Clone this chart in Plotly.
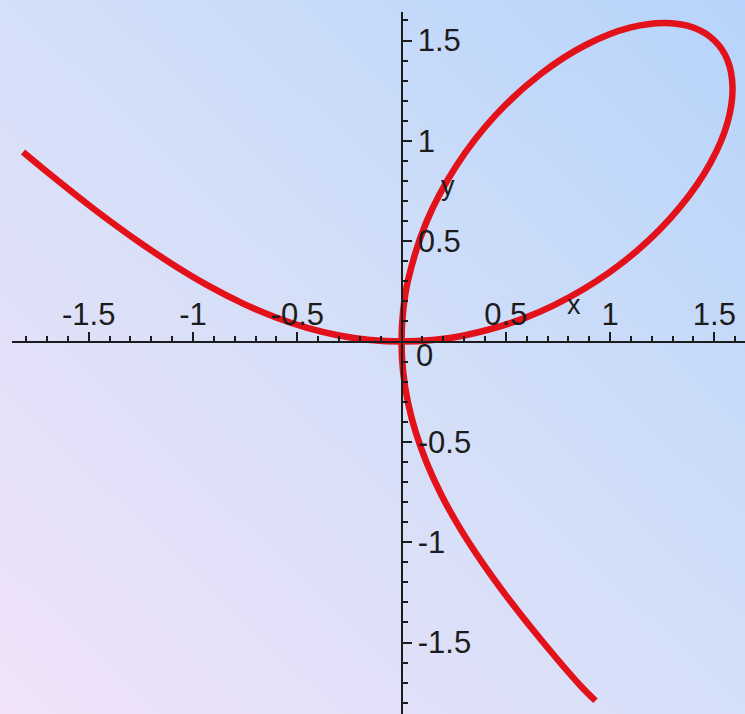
"""Folium of Descartes, Maple-style axes through the origin on a soft gradient."""

import plotly.graph_objects as go

# curve: left branch -> origin -> loop -> origin -> lower branch
curve_x = [
    -1.815, -1.714, -1.485, -1.282, -1.097, -0.925, -0.762, -0.605, -0.452, -0.300, -0.150, 0.0,
    0.150, 0.300, 0.595, 0.876, 1.128, 1.333, 1.480, 1.564, 1.587, 1.562, 1.500, 1.405,
    1.270, 1.095, 0.888, 0.667, 0.451, 0.263, 0.119, 0.030, 0.0075, 0.0,
    0.0075, 0.030, 0.068, 0.121, 0.190, 0.277, 0.384, 0.513, 0.668, 0.857, 0.930,
]
curve_y = [
    0.944, 0.857, 0.668, 0.513, 0.384, 0.277, 0.190, 0.121, 0.068, 0.030, 0.0075, 0.0,
    0.0075, 0.030, 0.119, 0.263, 0.451, 0.667, 0.888, 1.095, 1.270, 1.405, 1.500, 1.562,
    1.587, 1.564, 1.480, 1.333, 1.128, 0.876, 0.595, 0.300, 0.150, 0.0,
    -0.150, -0.300, -0.452, -0.605, -0.762, -0.925, -1.097, -1.282, -1.485, -1.714, -1.790,
]

tick_vals = [-1.5, -1.0, -0.5, 0.5, 1.0, 1.5]
tick_text = ["-1.5", "-1", "-0.5", "0.5", "1", "1.5"]

# 2x2 corner grid for the diagonal background wash
bg_z = [[0, 1], [1, 2]]
bg_scale = [[0.0, "#f1e2f9"], [0.5, "#d4dff8"], [1.0, "#b6d4fb"]]

W, H = 745, 714
X_RANGE = [-1.868, 1.647]
Y_RANGE = [-1.856, 1.642]
X_DOMAIN = [12 / W, 1]
Y_DOMAIN = [0, 1 - 12 / H]

FONT = "Liberation Sans, Arial, sans-serif"
INK = "#1c1c1c"


def _paper_pos(rng, dom, v):
    frac = (v - rng[0]) / (rng[1] - rng[0])
    return dom[0] + frac * (dom[1] - dom[0])


fig = go.Figure()

# background gradient on its own hidden axes
fig.add_trace(
    go.Heatmap(
        z=bg_z, x=[0, 1], y=[0, 1],
        colorscale=bg_scale, zsmooth="best",
        showscale=False, hoverinfo="skip",
        xaxis="x", yaxis="y",
    )
)

fig.add_trace(
    go.Scatter(
        x=curve_x, y=curve_y,
        mode="lines",
        line=dict(color="#e3121a", width=6.5, shape="spline", smoothing=1.0),
        xaxis="x2", yaxis="y2",
        hoverinfo="skip",
    )
)

axis_common = dict(
    showgrid=False, zeroline=False,
    showline=True, linecolor=INK, linewidth=2,
    ticks="outside", ticklen=9, tickwidth=1.5, tickcolor=INK,
    tickmode="array", tickvals=tick_vals, ticktext=tick_text,
    tickfont=dict(family=FONT, size=31, color=INK),
    minor=dict(tickmode="linear", tick0=0, dtick=0.1, ticks="outside",
               ticklen=5, tickwidth=1.5, tickcolor=INK, showgrid=False),
    anchor="free",
)

fig.update_layout(
    width=W, height=H,
    margin=dict(l=0, r=0, t=0, b=0),
    paper_bgcolor="#d4dff8",
    plot_bgcolor="rgba(0,0,0,0)",
    showlegend=False,
    xaxis=dict(domain=[0, 1], range=[0, 1], visible=False, fixedrange=True),
    yaxis=dict(domain=[0, 1], range=[0, 1], visible=False, fixedrange=True),
    xaxis2=dict(
        domain=X_DOMAIN, range=X_RANGE, side="top",
        position=_paper_pos(Y_RANGE, Y_DOMAIN, 0.0),
        ticklabelstandoff=-6,
        **axis_common,
    ),
    yaxis2=dict(
        domain=Y_DOMAIN, range=Y_RANGE, side="right",
        position=_paper_pos(X_RANGE, X_DOMAIN, 0.0),
        **axis_common,
    ),
)

# origin label and the small axis names
fig.add_annotation(x=0.108, y=-0.072, xref="x2", yref="y2", text="0",
                   showarrow=False, font=dict(family=FONT, size=31, color=INK))
fig.add_annotation(x=0.827, y=0.182, xref="x2", yref="y2", text="x",
                   showarrow=False, font=dict(family=FONT, size=27, color=INK))
fig.add_annotation(x=0.223, y=0.774, xref="x2", yref="y2", text="y",
                   showarrow=False, font=dict(family=FONT, size=27, color=INK))

# the page's default 8px body margin would shift the figure off the window
fig.write_html(
    "out.html",
    config={"displayModeBar": False},
    post_script="document.body.style.margin = '0';",
)
